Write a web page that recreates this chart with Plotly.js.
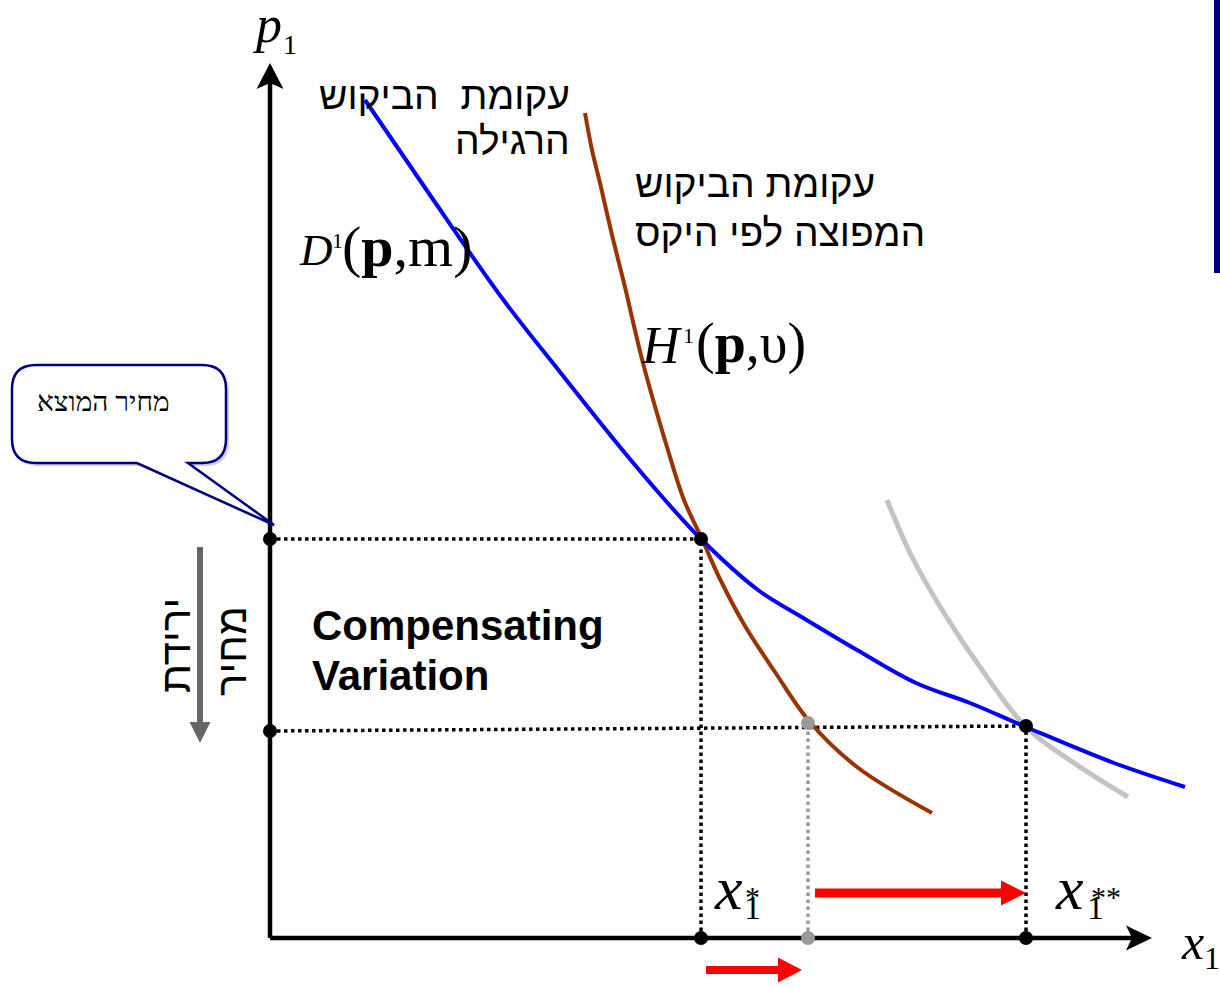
<!DOCTYPE html>
<html>
<head>
<meta charset="utf-8">
<script src="https://cdn.plot.ly/plotly-3.0.1.min.js"></script>
<style>html,body{margin:0;padding:0;background:#fff;}#chart{width:1220px;height:988px;}</style>
</head>
<body>
<div id="chart"></div>
<script>
// ---- data (origin = axes corner, 1 unit ~ 1 px) ----
const demandX = [95,160,232,290,350,395,431,488,530,587,646,700,756,844,915];
const demandY = [838,743,640,566,491,438,399,348,322,288,255,235,211,175,151];
const hicksX  = [315,322,330,342,354,373,397,414,432,449,475,505,539,587,662];
const hicksY  = [825,788,755,703,655,575,491,438,399,361,312,266,217,171,125];
const hicks2X = [617,642,674,710,756,804,858];
const hicks2Y = [438,381,325,271,211,175,141];

const priceHigh = 399;          // original price
const priceLowLeft = 207;       // new price (at axis)
const priceLowRight = 212;      // new price (at x1**)
const xStar = 431;              // x1*
const xComp = 538;              // compensated quantity
const xStarStar = 756;          // x1**
const compPointY = 215;

const axisTopY = 875;
const axisRightX = 882;

const demandLine1 = "עקומת\u00A0\u00A0הביקוש";
const demandLine2 = "הרגילה";
const hicksLine1 = "עקומת הביקוש";
const hicksLine2 = "המפוצה לפי היקס";
const textCallout = "מחיר המוצא";
const textDrop1 = "ירידת";
const textDrop2 = "מחיר";
const textCV1 = "<b>Compensating</b>";
const textCV2 = "<b>Variation</b>";

// ---- helpers ----
function head(tip, dir, len, hw, notch) {
  const [tx, ty] = tip, [dx, dy] = dir, px = -dy, py = dx;
  const bx = tx - dx * len, by = ty - dy * len;
  const nx = tx - dx * (len - notch), ny = ty - dy * (len - notch);
  return `M ${tx} ${ty} L ${bx + px * hw} ${by + py * hw} L ${nx} ${ny} L ${bx - px * hw} ${by - py * hw} Z`;
}
function line(xs, ys, color, width, dash) {
  return {x: xs, y: ys, mode: 'lines', type: 'scatter', hoverinfo: 'skip',
          line: {color: color, width: width, dash: dash || 'solid'}};
}
function spline(xs, ys, color, width) {
  return {x: xs, y: ys, mode: 'lines', type: 'scatter', hoverinfo: 'skip',
          line: {color: color, width: width, shape: 'spline', smoothing: 1}};
}

const traces = [
  // dotted guides
  line([0, xStar], [priceHigh, priceHigh], '#000', 3.5, 'dot'),
  line([0, xStarStar], [priceLowLeft, priceLowRight], '#000', 3.5, 'dot'),
  line([xStar, xStar], [0, priceHigh], '#000', 3.5, 'dot'),
  line([xStarStar, xStarStar], [0, priceLowRight], '#000', 3.5, 'dot'),
  line([xComp, xComp], [0, compPointY], '#999', 3.5, 'dot'),
  // axes
  line([0, 0], [0, axisTopY - 10], '#000', 4.5),
  line([0, axisRightX - 10], [0, 0], '#000', 4.5),
  // curves
  spline(hicks2X, hicks2Y, '#c3c3c3', 5),
  spline(hicksX, hicksY, '#993300', 4),
  spline(demandX, demandY, '#0000ff', 4),
  // dots
  {x: [0, xStar, 0, xStarStar, xStar, xStarStar], y: [priceHigh, priceHigh, priceLowLeft, priceLowRight, 0, 0],
   mode: 'markers', type: 'scatter', hoverinfo: 'skip', marker: {color: '#000', size: 14}},
  {x: [xComp, xComp], y: [compPointY, 0], mode: 'markers', type: 'scatter', hoverinfo: 'skip',
   marker: {color: '#999', size: 14}}
];

// callout bubble
const bx0 = -258, bx1 = -44, byT = 573, byB = 475, r = 24;
const tip = [4, 413], pb1 = -133, pb2 = -82;
function bubble(ox, oy) {
  const X = v => v + ox, Y = v => v + oy;
  return `M ${X(bx0 + r)} ${Y(byT)} L ${X(bx1 - r)} ${Y(byT)} Q ${X(bx1)} ${Y(byT)} ${X(bx1)} ${Y(byT - r)} ` +
         `L ${X(bx1)} ${Y(byB + r)} Q ${X(bx1)} ${Y(byB)} ${X(bx1 - r)} ${Y(byB)} L ${X(pb2)} ${Y(byB)} ` +
         `L ${X(tip[0])} ${Y(tip[1])} L ${X(pb1)} ${Y(byB)} L ${X(bx0 + r)} ${Y(byB)} ` +
         `Q ${X(bx0)} ${Y(byB)} ${X(bx0)} ${Y(byB + r)} L ${X(bx0)} ${Y(byT - r)} Q ${X(bx0)} ${Y(byT)} ${X(bx0 + r)} ${Y(byT)} Z`;
}

// arrows
const bigArrow = {from: [545, 45], to: [756, 45]};
const smallArrow = {from: [436, -32], to: [532, -32]};
const dropArrow = {from: [-70, 391], to: [-70, 195]};

const shapes = [
  {type: 'path', path: bubble(3, -3), fillcolor: 'rgba(150,150,150,0.45)', line: {width: 0}, layer: 'above'},
  {type: 'path', path: bubble(0, 0), fillcolor: '#fff', line: {color: '#000080', width: 2.5}, layer: 'above'},
  // axis heads
  {type: 'path', path: head([0, axisTopY], [0, 1], 26, 13.5, 6), fillcolor: '#000', line: {width: 0}},
  {type: 'path', path: head([axisRightX, 0], [1, 0], 26, 12.5, 6), fillcolor: '#000', line: {width: 0}},
  // red arrows
  {type: 'line', x0: bigArrow.from[0], y0: bigArrow.from[1], x1: bigArrow.to[0] - 20, y1: bigArrow.to[1], line: {color: '#ff0000', width: 9}},
  {type: 'path', path: head(bigArrow.to, [1, 0], 25, 12.5, 0), fillcolor: '#ff0000', line: {width: 0}},
  {type: 'line', x0: smallArrow.from[0], y0: smallArrow.from[1], x1: smallArrow.to[0] - 20, y1: smallArrow.to[1], line: {color: '#ff0000', width: 8}},
  {type: 'path', path: head(smallArrow.to, [1, 0], 24, 12.5, 0), fillcolor: '#ff0000', line: {width: 0}},
  // gray price drop arrow
  {type: 'line', x0: dropArrow.from[0], y0: dropArrow.from[1], x1: dropArrow.to[0], y1: dropArrow.to[1] + 15, line: {color: '#666', width: 6}},
  {type: 'path', path: head(dropArrow.to, [0, -1], 21, 10.5, 0), fillcolor: '#666', line: {width: 0}},
  // right edge bar
  {type: 'rect', x0: 944, x1: 951, y0: 665, y1: 940, fillcolor: '#000080', line: {width: 0}}
];

const serif = 'Liberation Serif, Times New Roman, serif';
const sans = 'Liberation Sans, Arial, DejaVu Sans, sans-serif';
function ann(text, x, y, size, family, opts) {
  return Object.assign({text: text, x: x, y: y, xref: 'x', yref: 'y', showarrow: false,
    font: {size: size, family: family, color: '#000'}, xanchor: 'center', yanchor: 'middle'}, opts || {});
}
const L = {xanchor: 'left'};

const annotations = [
  // p1
  ann('<i>p</i>', -3, 914, 52, serif),
  ann('1', 20, 894, 28, serif),
  // hebrew curve names
  ann(demandLine1, 302, 843, 39, sans, {xanchor: 'right'}),
  ann(demandLine2, 302, 798, 39, sans, {xanchor: 'right'}),
  ann(hicksLine1, 363, 755, 39, sans, L),
  ann(hicksLine2, 363, 706, 39, sans, L),
  // D1(p,m)
  ann('<i>D</i>', 27, 688, 45, serif, L),
  ann('1', 60, 698, 22, serif, L),
  ann('(<b>p</b>,m)', 70, 692, 58, serif, L),
  // H1(p,u)
  ann('<i>H</i>', 369, 593, 52, serif, L),
  ann('1', 411, 603, 22, serif, L),
  ann('(<b>p</b>,υ)', 424, 595, 56, serif, L),
  // callout & price drop
  ann(textCallout, -167, 537, 28, serif),
  ann(textDrop1, -95, 292, 42, sans, {textangle: -90}),
  ann(textDrop2, -39, 287, 42, sans, {textangle: -90}),
  // CV
  ann(textCV1, 40, 313, 42, sans, L),
  ann(textCV2, 40, 263, 42, sans, L),
  // x1*
  ann('<i>x</i>', 458, 50, 62, serif),
  ann('*', 482, 42, 30, serif),
  ann('1', 482, 31, 34, serif),
  // x1**
  ann('<i>x</i>', 799, 50, 62, serif),
  ann('**', 836, 42, 30, serif),
  ann('1', 825, 31, 34, serif),
  // x1 axis label
  ann('<i>x</i>', 922, -4, 50, serif),
  ann('1', 942, -20, 32, serif)
];

const layout = {
  width: 1220, height: 988,
  margin: {l: 0, r: 0, t: 0, b: 0},
  paper_bgcolor: '#fff', plot_bgcolor: '#fff',
  showlegend: false,
  xaxis: {range: [-270, 950], visible: false, fixedrange: true},
  yaxis: {range: [-50, 938], visible: false, fixedrange: true},
  shapes: shapes,
  annotations: annotations
};

Plotly.newPlot('chart', traces, layout, {staticPlot: true, displayModeBar: false});
</script>
</body>
</html>
